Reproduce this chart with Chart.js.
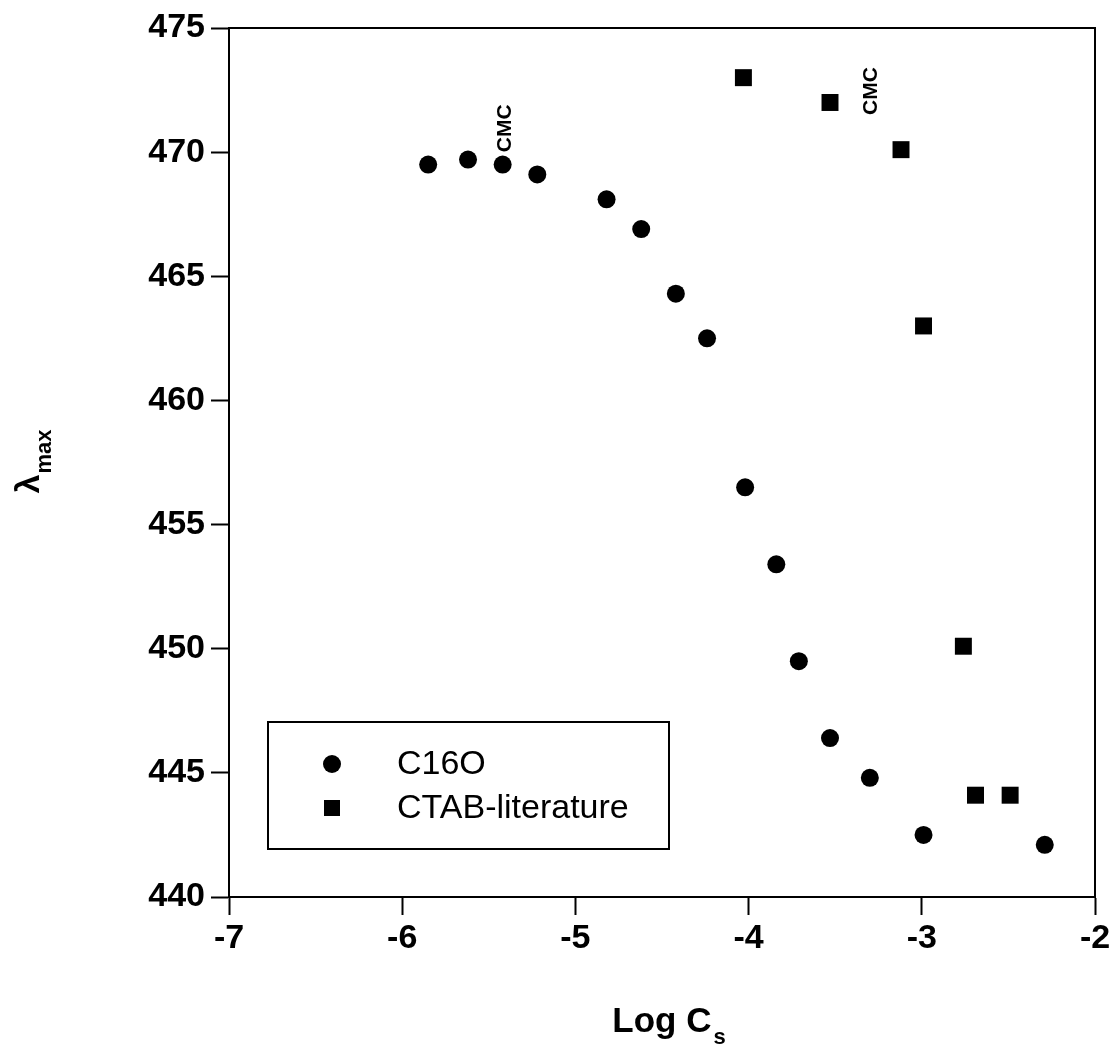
<!DOCTYPE html>
<html>
<head>
<meta charset="utf-8">
<script src="https://cdn.jsdelivr.net/npm/chart.js@4"></script>
<style>
  html,body{margin:0;padding:0;background:#fff;}
  #wrap{width:1118px;height:1050px;}
</style>
</head>
<body>
<div id="wrap"><canvas id="chart" width="1118" height="1050"></canvas></div>
<script>
// ===== Data =====
const c16oX = [-5.85,-5.62,-5.42,-5.22,-4.82,-4.62,-4.42,-4.24,-4.02,-3.84,-3.71,-3.53,-3.30,-2.99,-2.29];
const c16oY = [469.5,469.7,469.5,469.1,468.1,466.9,464.3,462.5,456.5,453.4,449.5,446.4,444.8,442.5,442.1];
const ctabX = [-4.03,-3.53,-3.12,-2.99,-2.76,-2.69,-2.49];
const ctabY = [473.0,472.0,470.1,463.0,450.1,444.1,444.1];
const seriesNames = ['C16O','CTAB-literature'];
const xTicks = [-7,-6,-5,-4,-3,-2];
const yTicks = [440,445,450,455,460,465,470,475];
// CMC labels: x, y (bottom of rotated text)
const cmcX = [-5.405,-3.295];
const cmcY = [470.0,471.5];

const FONT = '"Liberation Sans", Arial, sans-serif';
const toPts = (xs,ys)=>xs.map((x,i)=>({x,y:ys[i]}));

// ===== Extras: frame, legend, annotations, axis titles =====
const extras = {
  id:'extras',
  afterDraw(chart){
    const {ctx, chartArea:a, scales:{x,y}} = chart;
    ctx.save();
    // frame top/right
    ctx.strokeStyle='#000'; ctx.lineWidth=2;
    ctx.beginPath();
    ctx.moveTo(a.left,a.top); ctx.lineTo(a.right,a.top); ctx.lineTo(a.right,a.bottom);
    ctx.stroke();

    // legend box
    ctx.strokeRect(268,722,401,127);
    ctx.fillStyle='#000';
    ctx.beginPath(); ctx.arc(332,764,9,0,Math.PI*2); ctx.fill();
    ctx.fillRect(324,800,16,16);
    ctx.font='34px '+FONT; ctx.textBaseline='middle'; ctx.textAlign='left';
    ctx.fillText(seriesNames[0],397,765);
    ctx.fillText(seriesNames[1],397,809);

    // CMC labels
    ctx.font='bold 21px '+FONT;
    cmcX.forEach((v,i)=>{
      ctx.save();
      ctx.translate(x.getPixelForValue(v), y.getPixelForValue(cmcY[i]));
      ctx.rotate(-Math.PI/2);
      ctx.textAlign='left'; ctx.textBaseline='middle';
      ctx.fillText('CMC',0,0);
      ctx.restore();
    });

    // x title: Log C_s
    ctx.textBaseline='alphabetic'; ctx.textAlign='left';
    ctx.font='bold 35px '+FONT;
    const t1='Log C', w1=ctx.measureText(t1).width;
    ctx.font='bold 22px '+FONT;
    const w2=ctx.measureText('s').width;
    const x0=668 - (w1+w2)/2;
    ctx.font='bold 35px '+FONT; ctx.fillText(t1,x0,1032);
    ctx.font='bold 22px '+FONT; ctx.fillText('s',x0+w1+2,1044);

    // y title: lambda_max
    ctx.save();
    ctx.translate(39,462); ctx.rotate(-Math.PI/2);
    ctx.font='bold 34px '+FONT;
    const l1=ctx.measureText('λ').width;
    ctx.font='bold 22px '+FONT;
    const l2=ctx.measureText('max').width;
    const s0=-(l1+l2)/2;
    ctx.font='bold 34px '+FONT; ctx.fillText('λ',s0,0);
    ctx.font='bold 22px '+FONT; ctx.fillText('max',s0+l1+1,12);
    ctx.restore();
    ctx.restore();
  }
};

const axisCommon = {
  type:'linear',
  grid:{drawOnChartArea:false, drawTicks:true, tickLength:18, tickColor:'#000', tickWidth:2},
  border:{display:true, color:'#000', width:2},
  ticks:{color:'#000', font:{family:FONT, size:34, weight:'bold'}}
};

new Chart(document.getElementById('chart').getContext('2d'),{
  type:'scatter',
  data:{datasets:[
    {label:seriesNames[0], data:toPts(c16oX,c16oY), pointStyle:'circle', pointRadius:9,
     backgroundColor:'#000', borderColor:'#000', borderWidth:0},
    {label:seriesNames[1], data:toPts(ctabX,ctabY), pointStyle:'rect', pointRadius:12,
     backgroundColor:'#000', borderColor:'#000', borderWidth:0}
  ]},
  options:{
    responsive:false, animation:false, devicePixelRatio:1,
    layout:{padding:{left:0,right:23,top:28,bottom:0}},
    plugins:{legend:{display:false}, tooltip:{enabled:false}},
    scales:{
      x:{...axisCommon, min:-7, max:-2,
        afterBuildTicks:s=>{s.ticks=xTicks.map(v=>({value:v}));},
        ticks:{...axisCommon.ticks, padding:3},
        afterFit:s=>{s.height=153;}},
      y:{...axisCommon, min:440, max:475,
        afterBuildTicks:s=>{s.ticks=yTicks.map(v=>({value:v}));},
        ticks:{...axisCommon.ticks, padding:6},
        afterFit:s=>{s.width=229;}}
    }
  },
  plugins:[extras]
});
</script>
</body>
</html>
